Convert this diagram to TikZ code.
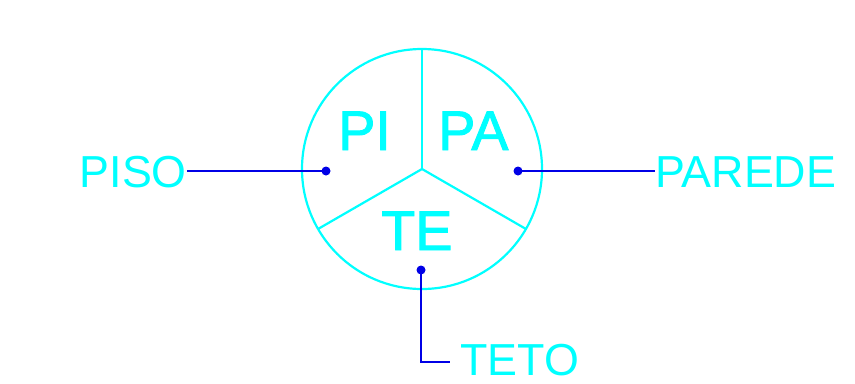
\documentclass[tikz,border=0pt]{standalone}
\usepackage{fontspec}
\setmainfont{Liberation Sans}
\newfontfamily\heavyfont[FakeBold=1.6]{Liberation Sans}
\definecolor{cadcyan}{RGB}{0,255,255}
\definecolor{cadblue}{RGB}{0,0,230}
\begin{document}
\begin{tikzpicture}[x=1bp,y=-1bp,
  cyanline/.style={draw=cadcyan,line width=2.2bp},
  leader/.style={draw=cadblue,line width=2.2bp},
  dotmark/.style={fill=cadblue},
  biglabel/.style={text=cadcyan,inner sep=0pt,font=\heavyfont\fontsize{56}{56}\selectfont},
  outlabel/.style={text=cadcyan,inner sep=0pt,font=\fontsize{45}{45}\selectfont}]
\useasboundingbox (0,0) rectangle (855,383);
% circle and spokes
\coordinate (c) at (422,169);
\coordinate (stop) at (422,49);
\coordinate (sleft) at (318,229);
\coordinate (sright) at (526,229);
\draw[cyanline] (c) circle[radius=120bp];
\draw[cyanline] (c) -- (stop);
\draw[cyanline] (c) -- (sleft);
\draw[cyanline] (c) -- (sright);
% inner labels
\node[biglabel,anchor=base west] (pi) at (338,150) {PI};
\node[biglabel,anchor=base west] (pa) at (438,150) {PA};
\node[biglabel,anchor=base west] (te) at (381,250) {TE};
% leader points
\coordinate (dpiso) at (326,171);
\coordinate (dparede) at (518,171);
\coordinate (dteto) at (421,270);
\fill[dotmark] (dpiso) circle[radius=4.5bp];
\fill[dotmark] (dparede) circle[radius=4.5bp];
\fill[dotmark] (dteto) circle[radius=4.5bp];
% outer labels
\node[outlabel,anchor=base east] (piso) at (187,187) {PISO};
\node[outlabel,anchor=base west] (parede) at (655,187) {PAREDE};
\node[outlabel,anchor=base west] (teto) at (460,375) {TETO};
\coordinate (tetoend) at (450,362);
% leaders
\draw[leader] (dpiso) -- (dpiso -| piso.east);
\draw[leader] (dparede) -- (dparede -| parede.west);
\draw[leader] (dteto) |- (tetoend);
\end{tikzpicture}
\end{document}
